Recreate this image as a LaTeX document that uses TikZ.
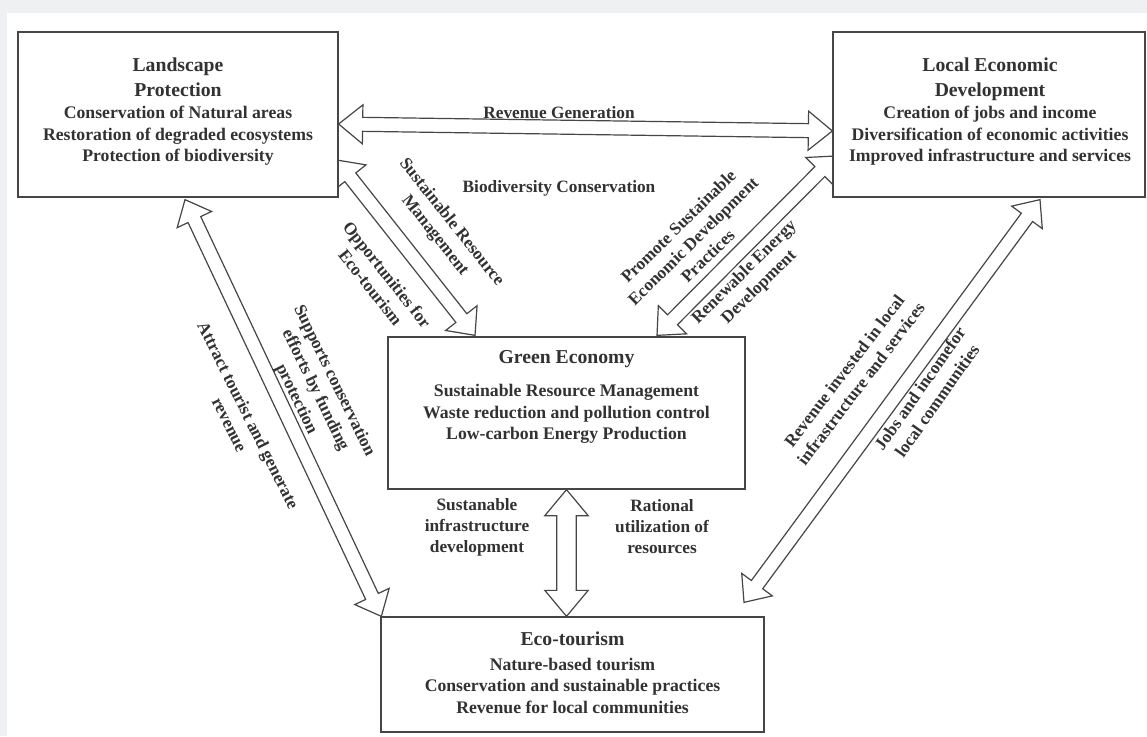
\documentclass[tikz,border=0pt]{standalone}
\usepackage{fontspec}
\setmainfont{Liberation Serif}
\usetikzlibrary{calc}
\definecolor{bggray}{RGB}{239,240,242}
\definecolor{ink}{RGB}{50,50,50}
\definecolor{edgecol}{RGB}{70,70,70}
\pgfdeclarelayer{back}
\pgfdeclarelayer{arrowlayer}
\pgfsetlayers{back,arrowlayer,main}
\newcommand\ttl[1]{{\fontsize{19.7}{25}\selectfont #1}}
\newcommand\dblarrow[5]{%
 \draw[blockarrow] (#1)
 -- ($(#1)!#5!(#2)!#4!90:(#2)$)
 -- ($(#1)!#5!(#2)!#3!90:(#2)$)
 -- ($(#2)!#5!(#1)!#3!-90:(#1)$)
 -- ($(#2)!#5!(#1)!#4!-90:(#1)$)
 -- (#2)
 -- ($(#2)!#5!(#1)!#4!90:(#1)$)
 -- ($(#2)!#5!(#1)!#3!90:(#1)$)
 -- ($(#1)!#5!(#2)!#3!-90:(#2)$)
 -- ($(#1)!#5!(#2)!#4!-90:(#2)$)
 -- cycle;}
\tikzset{
 box/.style={draw=edgecol, line width=1.3pt, fill=white, inner sep=0pt},
 boxtext/.style={font=\fontsize{17.7}{21.5}\selectfont\bfseries, text=ink, align=center, inner sep=0pt},
 lbl/.style={font=\fontsize{17.3}{21}\selectfont\bfseries, text=ink, align=center, inner sep=0pt},
 blockarrow/.style={draw=edgecol, line width=1.2pt, fill=white, line join=miter}
}
\begin{document}
\begin{tikzpicture}[x=1pt,y=-1pt]
\useasboundingbox (0,0) rectangle (1147,736);
\begin{pgfonlayer}{back}
 \fill[bggray] (0,0) rectangle (1147,736);
 \fill[white] (7,13) rectangle (1147,736);
\end{pgfonlayer}

% boxes
\node[box, minimum width=320pt, minimum height=165pt] (land) at (178,114.5) {};
\node[box, minimum width=312pt, minimum height=165pt] (lec) at (989,114.5) {};
\node[box, minimum width=357pt, minimum height=152pt] (green) at (566.5,413) {};
\node[box, minimum width=383pt, minimum height=115pt] (eco) at (572.5,674.5) {};

% box texts
\node[boxtext] (landtxt) at (178,112) {\ttl{Landscape}\\[3pt]\ttl{Protection}\\[1pt]Conservation of Natural areas\\Restoration of degraded ecosystems\\Protection of biodiversity};
\node[boxtext] (lectxt) at (990,112) {\ttl{Local Economic}\\[3pt]\ttl{Development}\\[1pt]Creation of jobs and income\\Diversification of economic activities\\Improved infrastructure and services};
\node[boxtext] (greentxt) at (566.5,397) {\ttl{Green Economy}\\[12pt]Sustainable Resource Management\\Waste reduction and pollution control\\Low-carbon Energy Production};
\node[boxtext] (ecotxt) at (572.5,673) {\ttl{Eco-tourism}\\[3pt]Nature-based tourism\\Conservation and sustainable practices\\Revenue for local communities};

% arrow end points
\coordinate (rgA) at ($(land.east)+(0,9.5)$);
\coordinate (rgB) at ($(lec.west)+(0,16.5)$);
\coordinate (lsA) at ($(land.east)+(-2,45.5)$);
\coordinate (lsB) at ($(green.north)+(-91.5,-1)$);
\coordinate (lgA) at ($(lec.west)+(3,41.5)$);
\coordinate (lgB) at ($(green.north)+(90.5,-1)$);
\coordinate (laA) at ($(land.south)+(7,2)$);
\coordinate (laB) at ($(eco.north west)+(1,0)$);
\coordinate (leA) at ($(lec.south)+(51,2)$);
\coordinate (leB) at ($(eco.north)+(171.5,-14)$);
\coordinate (geB) at (eco.north -| green.south);

\begin{pgfonlayer}{arrowlayer}
 \dblarrow{rgA}{rgB}{7pt}{19.5pt}{24pt}
 \dblarrow{lsA}{lsB}{7pt}{20pt}{22pt}
 \dblarrow{lgA}{lgB}{7pt}{20pt}{22pt}
 \dblarrow{laA}{laB}{7pt}{19pt}{22pt}
 \dblarrow{leA}{leB}{7pt}{19pt}{22pt}
 \dblarrow{green.south}{geB}{9.7pt}{21.7pt}{26pt}
\end{pgfonlayer}

% labels
\node[lbl] (l1) at (559,113) {Revenue Generation};
\node[lbl] (l2) at (559,188) {Biodiversity Conservation};
\node[lbl, rotate=-51.6] (l3) at (443,229) {Sustainable Resource\\Management};
\node[lbl, rotate=-51.6] (l4) at (379,281) {Opportunities for\\Eco-tourism};
\node[lbl, rotate=44.5] (l5) at (693,241) {Promote Sustainable\\Economic Development\\Practices};
\node[lbl, rotate=44.5] (l6) at (752,280) {Renewable Energy\\Development};
\node[lbl, rotate=-64] (l7) at (315,390) {Supports conservation\\efforts by funding\\protection};
\node[lbl, rotate=-63.5] (l8) at (239,420) {Attract tourist and generate\\revenue};
\node[lbl, rotate=52.7] (l9) at (852.5,377.5) {Revenue invested in local\\infrastructure and services};
\node[lbl, rotate=54.8] (l10) at (928.5,394.5) {Jobs and incomefor\\local communities};
\node[lbl] (l11) at (477,527) {Sustanable\\infrastructure\\development};
\node[lbl] (l12) at (662,527) {Rational\\utilization of\\resources};
\end{tikzpicture}
\end{document}
